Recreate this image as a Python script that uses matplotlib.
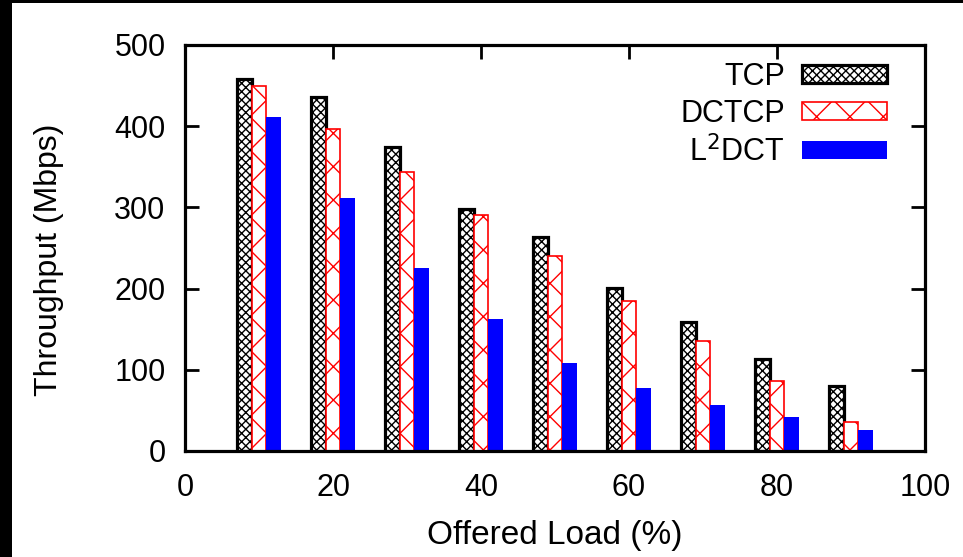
import numpy as np
import matplotlib.pyplot as plt
import matplotlib as mpl

plt.rcParams['font.family'] = ['Liberation Sans', 'DejaVu Sans']
plt.rcParams['hatch.linewidth'] = 1.0

loads = [10, 20, 30, 40, 50, 60, 70, 80, 90]
tcp = [458, 436, 375, 298, 264, 201, 159, 113, 80]
dctcp = [450, 397, 343, 291, 240, 185, 136, 86, 36]
l2dct = [411, 312, 225, 162, 108, 78, 57, 42, 26]

fig = plt.figure(figsize=(9.63, 5.57), dpi=100, facecolor='white')
# black strips at the left and top edges of the original screenshot
fig.add_artist(mpl.patches.Rectangle((0, 0), 12 / 963, 1, transform=fig.transFigure,
                                     facecolor='black', edgecolor='none'))
fig.add_artist(mpl.patches.Rectangle((0, 1 - 3 / 557), 1, 3 / 557, transform=fig.transFigure,
                                     facecolor='black', edgecolor='none'))
ax = fig.add_axes([185 / 963, 1 - 451 / 557, 740 / 963, 406 / 557])
ax.set_axisbelow(True)

x = np.array(loads)
w = 2
mpl.rcParams['hatch.color'] = '#333333'
b1 = ax.bar(x - w, tcp, w, facecolor='white', edgecolor='black', linewidth=2.3,
            hatch='xxxx', label='TCP')
b2 = ax.bar(x, dctcp, w, facecolor='white', edgecolor='red', linewidth=1.2,
            hatch='x', label='DCTCP')
for b in b2:
    b._hatch_color = mpl.colors.to_rgba('red')
b3 = ax.bar(x + w, l2dct, w, color='blue', label=r'L$^2$DCT')

ax.set_xlim(0, 100)
ax.set_ylim(0, 500)
ax.set_xticks([0, 20, 40, 60, 80, 100])
ax.set_yticks([0, 100, 200, 300, 400, 500])
ax.tick_params(direction='in', length=10, width=2, top=True, right=True,
               labelsize=22, pad=14)
ax.tick_params(axis='x', pad=16)
for s in ax.spines.values():
    s.set_linewidth(2.3)
ax.set_xlabel('Offered Load (%)', fontsize=24, labelpad=12)
ax.set_ylabel('Throughput (Mbps)', fontsize=23)
ax.yaxis.set_label_coords(-0.163, 0.47)

leg = ax.legend(loc='upper right', frameon=False, markerfirst=False, fontsize=22,
                handlelength=2.8, handleheight=0.55, labelspacing=0.22,
                bbox_to_anchor=(0.949, 0.958), borderaxespad=0, borderpad=0,
                handletextpad=0.55)
for h in leg.legend_handles:
    if h.get_label() == 'DCTCP' or h.get_edgecolor()[:3] == (1.0, 0.0, 0.0):
        h._hatch_color = mpl.colors.to_rgba('red')

fig.savefig('out.png', dpi=100, facecolor='white')
